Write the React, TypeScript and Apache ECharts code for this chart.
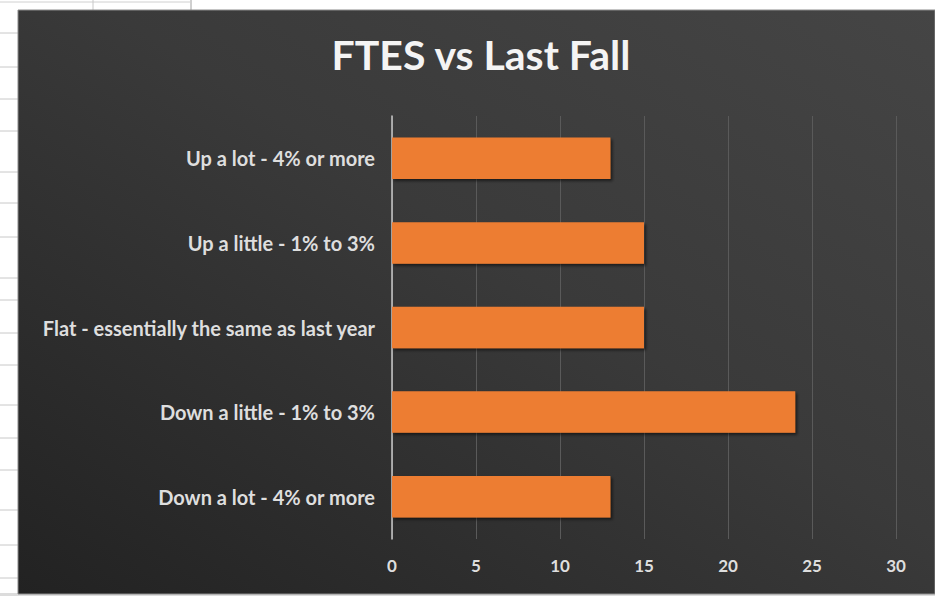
import React, { useEffect, useRef } from "react";
import * as echarts from "echarts";

const categories = [
  "Up a lot - 4% or more",
  "Up a little - 1% to 3%",
  "Flat - essentially the same as last year",
  "Down a little - 1% to 3%",
  "Down a lot - 4% or more",
];
const values = [13, 15, 15, 24, 13];
const titleText = "FTES vs Last Fall";

export default function App() {
  const ref = useRef<HTMLDivElement>(null);
  useEffect(() => {
    if (!ref.current) return;
    const chart = echarts.init(ref.current, null, { renderer: "svg" });
    const sheetRows = [33, 67, 99, 131, 172, 203, 237, 278, 300, 333, 365, 405, 438, 470, 510, 545, 578];
    const graphics: any[] = [
      { type: "rect", z: -10, shape: { x: 0, y: 0, width: 935, height: 596 }, style: { fill: "#ffffff" } },
      { type: "rect", z: -10, shape: { x: 0, y: 593, width: 935, height: 3 }, style: { fill: "#dcdcdc" } },
      { type: "line", z: -9, shape: { x1: 0, y1: 2, x2: 190, y2: 2 }, style: { stroke: "#d0d0d0", lineWidth: 1 } },
      { type: "line", z: -9, shape: { x1: 93, y1: 0, x2: 93, y2: 10 }, style: { stroke: "#c8c8c8", lineWidth: 1 } },
      { type: "line", z: -9, shape: { x1: 191, y1: 0, x2: 191, y2: 10 }, style: { stroke: "#a0a0a0", lineWidth: 1 } },
      ...sheetRows.map((y) => ({
        type: "line",
        z: -9,
        shape: { x1: 0, y1: y, x2: 18, y2: y },
        style: { stroke: "#c8c8c8", lineWidth: 1 },
      })),
      {
        type: "rect",
        z: -8,
        shape: { x: 18, y: 10, width: 917, height: 584 },
        style: {
          fill: new echarts.graphic.LinearGradient(0, 1, 1, 0, [
            { offset: 0, color: "#222222" },
            { offset: 0.55, color: "#3a3a3a" },
            { offset: 1, color: "#454545" },
          ]),
          stroke: "#8a8a8a",
          lineWidth: 1,
        },
      },
    ];
    chart.setOption({
      animation: false,
      title: {
        text: titleText,
        left: 476,
        top: 29,
        textAlign: "center",
        textStyle: { color: "#f4f4f4", fontSize: 41, fontWeight: "bold", fontFamily: "Lato" },
      },
      graphic: graphics,
      grid: { left: 392, right: 39, top: 116, bottom: 57, containLabel: false },
      xAxis: {
        type: "value",
        min: 0,
        max: 30,
        interval: 5,
        axisLine: { show: false },
        axisTick: { show: false },
        splitLine: { lineStyle: { color: "#5a5a5a", width: 1 } },
        axisLabel: { color: "#dedede", fontSize: 17, fontWeight: "bold", fontFamily: "Lato", margin: 18 },
      },
      yAxis: {
        type: "category",
        inverse: true,
        data: categories,
        axisLine: { show: true, lineStyle: { color: "#c8c8c8", width: 1.5 } },
        axisTick: { show: false },
        axisLabel: { color: "#dedede", fontSize: 20, fontWeight: "bold", fontFamily: "Lato", margin: 17 },
      },
      series: [
        {
          type: "bar",
          data: values,
          barCategoryGap: "51%",
          itemStyle: {
            color: "#ED7D31",
            shadowColor: "rgba(0,0,0,0.55)",
            shadowBlur: 3,
            shadowOffsetX: 2,
            shadowOffsetY: 2,
          },
        },
      ],
    });
    return () => chart.dispose();
  }, []);
  return (
    <div
      ref={ref}
      style={{ position: "absolute", left: 0, top: 0, width: 935, height: 596 }}
    />
  );
}
